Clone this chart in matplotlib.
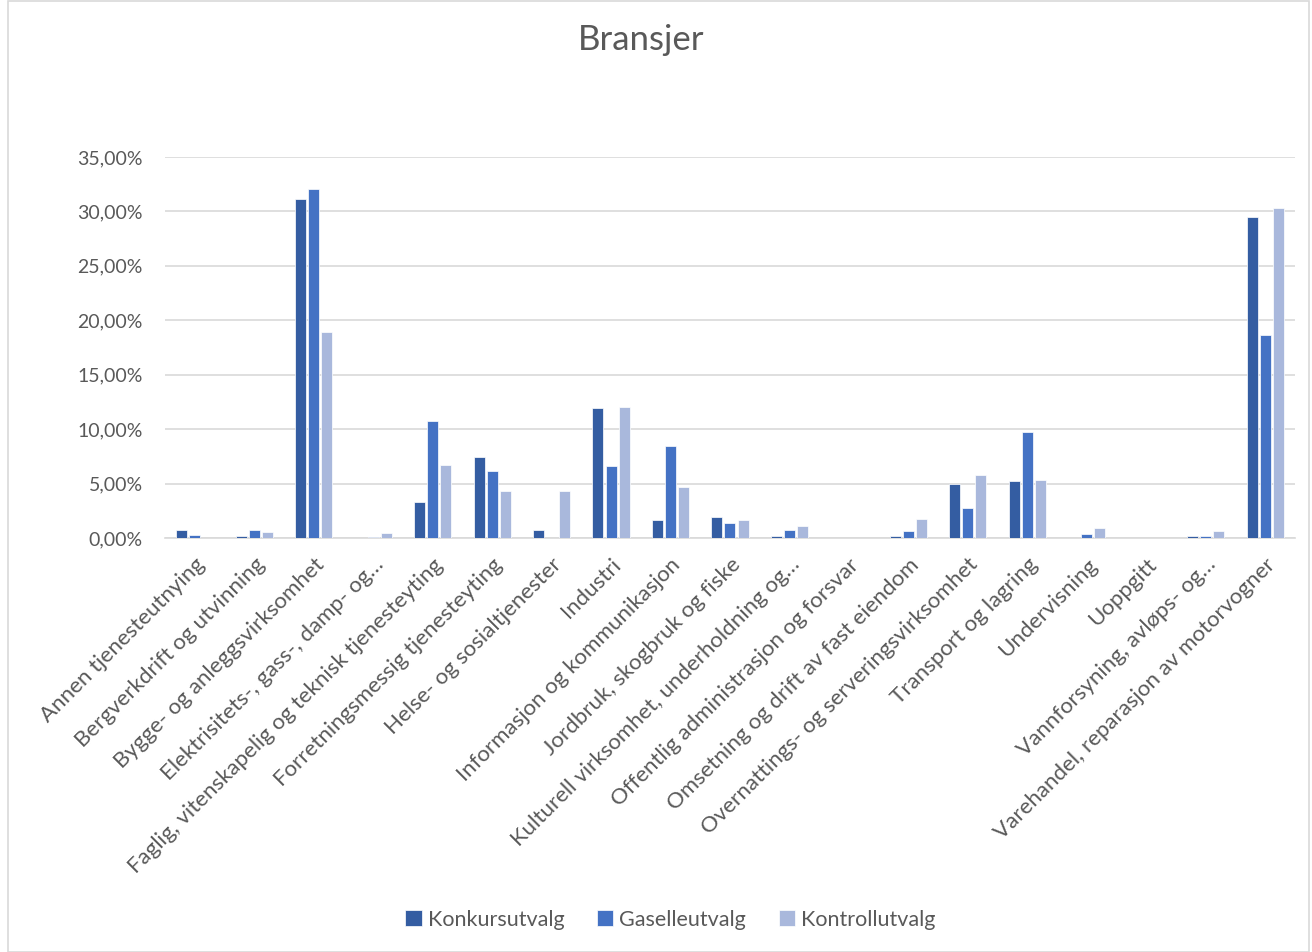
import numpy as np
import matplotlib
matplotlib.use("Agg")
import matplotlib.pyplot as plt
from matplotlib.patches import Rectangle
from matplotlib.ticker import FuncFormatter, MultipleLocator

categories = [
    "Annen tjenesteutnying",
    "Bergverkdrift og utvinning",
    "Bygge- og anleggsvirksomhet",
    "Elektrisitets-, gass-, damp- og…",
    "Faglig, vitenskapelig og teknisk tjenesteyting",
    "Forretningsmessig tjenesteyting",
    "Helse- og sosialtjenester",
    "Industri",
    "Informasjon og kommunikasjon",
    "Jordbruk, skogbruk og fiske",
    "Kulturell virksomhet, underholdning og…",
    "Offentlig administrasjon og forsvar",
    "Omsetning og drift av fast eiendom",
    "Overnattings- og serveringsvirksomhet",
    "Transport og lagring",
    "Undervisning",
    "Uoppgitt",
    "Vannforsyning, avløps- og…",
    "Varehandel, reparasjon av motorvogner",
]

# andel i prosent per bransje
konkurs = [0.77, 0.20, 31.14, 0.00, 3.33, 7.45, 0.77, 11.95, 1.67, 1.91,
           0.20, 0.00, 0.20, 5.00, 5.24, 0.00, 0.00, 0.20, 29.45]
gasell = [0.30, 0.74, 32.02, 0.12, 10.72, 6.18, 0.00, 6.62, 8.42, 1.39,
          0.74, 0.00, 0.62, 2.71, 9.72, 0.40, 0.00, 0.17, 18.65]
kontroll = [0.00, 0.55, 18.90, 0.49, 6.74, 4.33, 4.35, 12.00, 4.72, 1.67,
            1.11, 0.00, 1.70, 5.78, 5.32, 0.93, 0.00, 0.65, 30.30]

series = ["Konkursutvalg", "Gaselleutvalg", "Kontrollutvalg"]
colors = ["#345da2", "#4472c4", "#a9b8dc"]
text_col = "#595959"

plt.rcParams["font.family"] = ["Lato", "DejaVu Sans"]

fig = plt.figure(figsize=(13.12, 9.52), dpi=100)
fig.patches.append(Rectangle((0.006, 0.0), 0.992, 0.999, transform=fig.transFigure,
                             fill=False, edgecolor="#d9d9d9", linewidth=1.2))
ax = fig.add_axes([0.1258, 0.4349, 0.8612, 0.4002])

x = np.arange(len(categories))
step, width = 0.22, 0.185
for i, (vals, name, col) in enumerate(zip([konkurs, gasell, kontroll], series, colors)):
    ax.bar(x + (i - 1) * step, vals, width=width, color=col, label=name,
           edgecolor="white", linewidth=0.5, zorder=3)

ax.set_xlim(-0.5, len(categories) - 0.5)
ax.set_ylim(0, 35)
ax.yaxis.set_major_locator(MultipleLocator(5))
ax.yaxis.set_major_formatter(FuncFormatter(lambda v, p: f"{v:.2f}".replace(".", ",") + "%"))
ax.grid(axis="y", color="#d9d9d9", linewidth=1.2, zorder=0)
for s in ["left", "right", "top"]:
    ax.spines[s].set_visible(False)
ax.spines["bottom"].set_color("#d9d9d9")
ax.spines["bottom"].set_linewidth(1.2)
ax.tick_params(axis="y", length=0, pad=16, labelsize=14, labelcolor=text_col)
ax.tick_params(axis="x", length=0, pad=12)
ax.set_xticks(x)
ax.set_xticklabels(categories, rotation=45, ha="right", rotation_mode="anchor",
                   fontsize=16, color=text_col)

fig.text(0.489, 0.958, "Bransjer", ha="center", va="center", fontsize=25, color=text_col)
fig.legend(loc="center", bbox_to_anchor=(0.511, 0.034), ncol=3, frameon=False,
           fontsize=15.5, labelcolor=text_col, handlelength=0.75, handleheight=0.75,
           handletextpad=0.3, columnspacing=1.5)

fig.savefig("out.png", dpi=100)
